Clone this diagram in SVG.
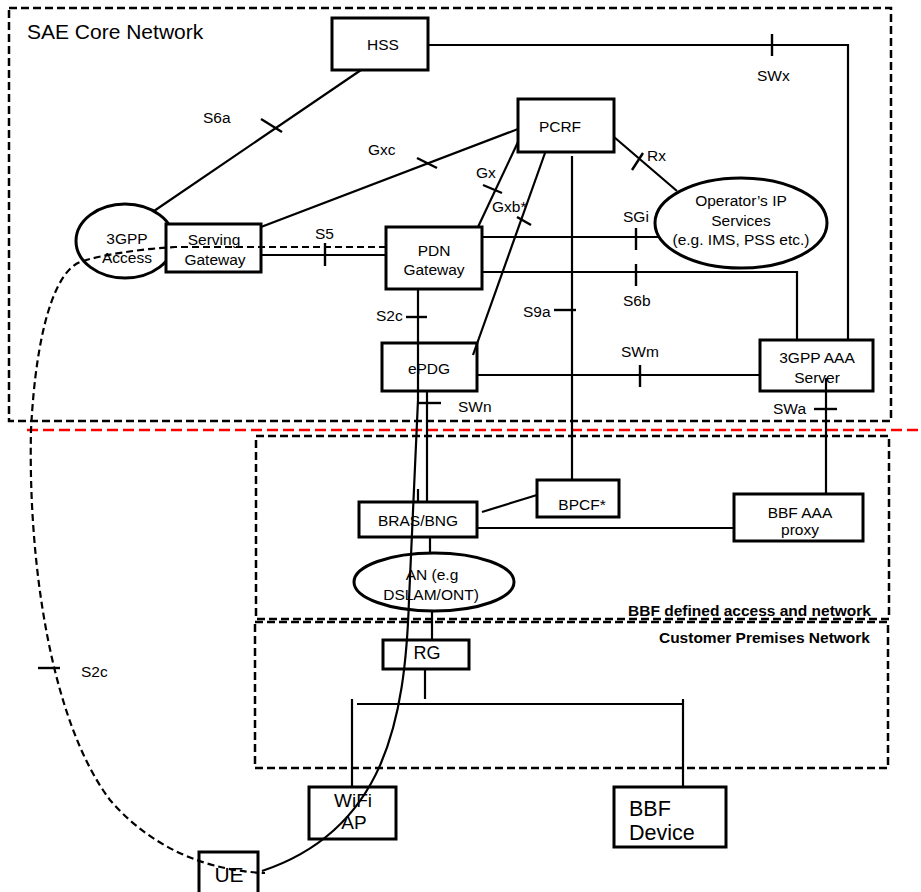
<svg xmlns="http://www.w3.org/2000/svg" width="921" height="892" viewBox="0 0 921 892">
  <style>
    text { font-family: "Liberation Sans", Arial, sans-serif; fill: #000; }
    .n { font-size: 15.5px; text-anchor: middle; }
    .lbl { font-size: 15.5px; }
    .zone { font-size: 15.5px; font-weight: bold; text-anchor: end; }
    .box { fill: #fff; stroke: #000; stroke-width: 3; }
    .ell { fill: #fff; stroke: #000; stroke-width: 3; }
    .area { fill: none; stroke: #000; stroke-width: 2.5; stroke-dasharray: 8 4; }
    .ln { fill: none; stroke: #000; stroke-width: 2.2; }
    .tick { fill: none; stroke: #000; stroke-width: 2.4; }
    .dash { fill: none; stroke: #000; stroke-width: 2.2; stroke-dasharray: 7 4; }
    .border { fill: none; stroke: #ff0000; stroke-width: 2.5; stroke-dasharray: 11 5; }
  </style>

  <!-- domains -->
  <g id="areas">
    <rect class="area" x="9" y="8" width="882" height="413"/>
    <text x="27" y="39" style="font-size:21px">SAE Core Network</text>
    <rect class="area" x="256" y="436" width="633" height="183"/>
    <text class="zone" x="871" y="616">BBF defined access and network</text>
    <rect class="area" x="255" y="622" width="633" height="146"/>
    <text class="zone" x="870" y="643">Customer Premises Network</text>
    <line class="border" x1="27" y1="430" x2="921" y2="430"/>
  </g>

  <!-- network elements -->
  <g id="hss">
    <rect class="box" x="332" y="18" width="96" height="52"/>
    <text class="n" x="383" y="50">HSS</text>
  </g>
  <g id="pcrf">
    <rect class="box" x="518" y="99" width="96" height="53"/>
    <text class="n" x="560" y="132">PCRF</text>
  </g>
  <g id="access-3gpp">
    <ellipse class="ell" cx="125" cy="241" rx="49" ry="37"/>
    <text class="n" x="127" y="244">3GPP</text>
    <text class="n" x="127" y="263">Access</text>
  </g>
  <g id="serving-gw">
    <rect class="box" x="166" y="224" width="95" height="48"/>
    <text class="n" x="214" y="245">Serving</text>
    <text class="n" x="215" y="265">Gateway</text>
  </g>
  <g id="pdn-gw">
    <rect class="box" x="386" y="227" width="96" height="62"/>
    <text class="n" x="434" y="256">PDN</text>
    <text class="n" x="434" y="275">Gateway</text>
  </g>
  <g id="operator-ip">
    <ellipse class="ell" cx="741" cy="223" rx="86" ry="45"/>
    <text class="n" x="741" y="206">Operator’s IP</text>
    <text class="n" x="741" y="226">Services</text>
    <text class="n" x="741" y="245">(e.g. IMS, PSS etc.)</text>
  </g>
  <g id="epdg">
    <rect class="box" x="382" y="343" width="95" height="48"/>
    <text class="n" x="429" y="374">ePDG</text>
  </g>
  <g id="aaa-3gpp">
    <rect class="box" x="760" y="340" width="113" height="51"/>
    <text class="n" x="817" y="363">3GPP AAA</text>
    <text class="n" x="817" y="383">Server</text>
  </g>
  <g id="bras">
    <rect class="box" x="359" y="502" width="118" height="35"/>
    <text class="n" x="418" y="526">BRAS/BNG</text>
  </g>
  <g id="bpcf">
    <rect class="box" x="537" y="480" width="82" height="37"/>
    <text class="n" x="582" y="510">BPCF*</text>
  </g>
  <g id="bbf-aaa">
    <rect class="box" x="734" y="494" width="129" height="47"/>
    <text class="n" x="800" y="518">BBF AAA</text>
    <text class="n" x="800" y="535">proxy</text>
  </g>
  <g id="an">
    <ellipse class="ell" cx="434" cy="582" rx="80" ry="29"/>
    <text class="n" x="432" y="580">AN (e.g</text>
    <text class="n" x="431" y="600">DSLAM/ONT)</text>
  </g>
  <g id="rg">
    <rect class="box" x="383" y="640" width="86" height="29"/>
    <text class="n" x="427" y="659" style="font-size:18px">RG</text>
  </g>
  <g id="wifi-ap">
    <rect class="box" x="309" y="787" width="87" height="52"/>
    <text class="n" x="353" y="807" style="font-size:19px">WiFi</text>
    <text class="n" x="354" y="829" style="font-size:19px">AP</text>
  </g>
  <g id="bbf-device">
    <rect class="box" x="614" y="787" width="112" height="60"/>
    <text x="629" y="816" style="font-size:21.5px">BBF</text>
    <text x="629" y="840" style="font-size:21.5px">Device</text>
  </g>
  <g id="ue">
    <rect class="box" x="199" y="852" width="59" height="45"/>
    <text class="n" x="229" y="882" style="font-size:21px">UE</text>
  </g>

  <!-- reference points -->
  <g id="connectors">
    <!-- SWx -->
    <polyline class="ln" points="428,45 848,45 848,340"/>
    <line class="tick" x1="772" y1="34" x2="772" y2="56"/>
    <text class="lbl" x="757" y="81">SWx</text>
    <!-- S6a -->
    <line class="ln" x1="361" y1="70" x2="154" y2="211"/>
    <line class="tick" x1="261" y1="119" x2="282" y2="132"/>
    <text class="lbl" x="203" y="123">S6a</text>
    <!-- Gxc -->
    <line class="ln" x1="261" y1="227" x2="518" y2="129"/>
    <line class="tick" x1="417" y1="158" x2="437" y2="168"/>
    <text class="lbl" x="368" y="155">Gxc</text>
    <!-- Gx -->
    <line class="ln" x1="518" y1="142" x2="478" y2="227"/>
    <line class="tick" x1="483" y1="185" x2="502" y2="193"/>
    <text class="lbl" x="476" y="178">Gx</text>
    <!-- Gxb* -->
    <line class="ln" x1="545" y1="153" x2="473" y2="355"/>
    <line class="tick" x1="517" y1="217" x2="531" y2="225"/>
    <text class="lbl" x="492" y="212">Gxb*</text>
    <!-- Rx -->
    <line class="ln" x1="614" y1="137" x2="677" y2="191"/>
    <line class="tick" x1="632" y1="170" x2="643" y2="153"/>
    <text class="lbl" x="647" y="161">Rx</text>
    <!-- S9a -->
    <line class="ln" x1="572" y1="156" x2="572" y2="481"/>
    <line class="tick" x1="554" y1="310" x2="576" y2="310"/>
    <text class="lbl" x="523" y="317">S9a</text>
    <!-- SGi -->
    <line class="ln" x1="482" y1="237" x2="658" y2="237"/>
    <line class="tick" x1="636" y1="228" x2="636" y2="250"/>
    <text class="lbl" x="623" y="222">SGi</text>
    <!-- S6b -->
    <polyline class="ln" points="482,272 797,272 797,340"/>
    <line class="tick" x1="636" y1="264" x2="636" y2="286"/>
    <text class="lbl" x="623" y="306">S6b</text>
    <!-- S5 -->
    <line class="ln" x1="261" y1="255" x2="386" y2="255"/>
    <line class="tick" x1="325" y1="243" x2="325" y2="266"/>
    <text class="lbl" x="315" y="239">S5</text>
    <!-- SWm -->
    <line class="ln" x1="477" y1="375" x2="760" y2="375"/>
    <line class="tick" x1="640" y1="365" x2="640" y2="387"/>
    <text class="lbl" x="621" y="357">SWm</text>
    <!-- SWa -->
    <line class="ln" x1="826" y1="378" x2="826" y2="494"/>
    <line class="tick" x1="814" y1="409" x2="837" y2="409"/>
    <text class="lbl" x="773" y="414">SWa</text>
    <!-- S2c (PDN Gateway to UE, solid) -->
    <path class="ln" d="M418,289 L418,400 L409,600 C405,720 385,830 262,871"/>
    <line class="tick" x1="406" y1="317" x2="427" y2="317"/>
    <text class="lbl" x="376" y="321">S2c</text>
    <!-- SWn -->
    <line class="ln" x1="427" y1="392" x2="427" y2="502"/>
    <line class="ln" x1="418" y1="489" x2="418" y2="502"/>
    <line class="tick" x1="418" y1="403" x2="441" y2="403"/>
    <text class="lbl" x="458" y="412">SWn</text>
    <!-- S2c (PDN Gateway to UE, dashed) -->
    <path class="dash" d="M386,247 L175,247 C140,249 100,255 80,262 C55,272 36,330 31,430 C28,560 50,720 110,800 C140,835 190,870 265,873"/>
    <line class="tick" x1="38" y1="668" x2="60" y2="668"/>
    <text class="lbl" x="81" y="677">S2c</text>
    <!-- access network links -->
    <line class="ln" x1="482" y1="512" x2="537" y2="495"/>
    <line class="ln" x1="477" y1="528" x2="734" y2="528"/>
    <line class="ln" x1="430" y1="537" x2="430" y2="553"/>
    <line class="ln" x1="432" y1="611" x2="432" y2="640"/>
    <line class="ln" x1="425" y1="668" x2="425" y2="699"/>
    <line class="ln" x1="357" y1="704" x2="683" y2="704"/>
    <line class="ln" x1="352" y1="699" x2="352" y2="787"/>
    <line class="ln" x1="683" y1="699" x2="683" y2="787"/>
  </g>
</svg>
